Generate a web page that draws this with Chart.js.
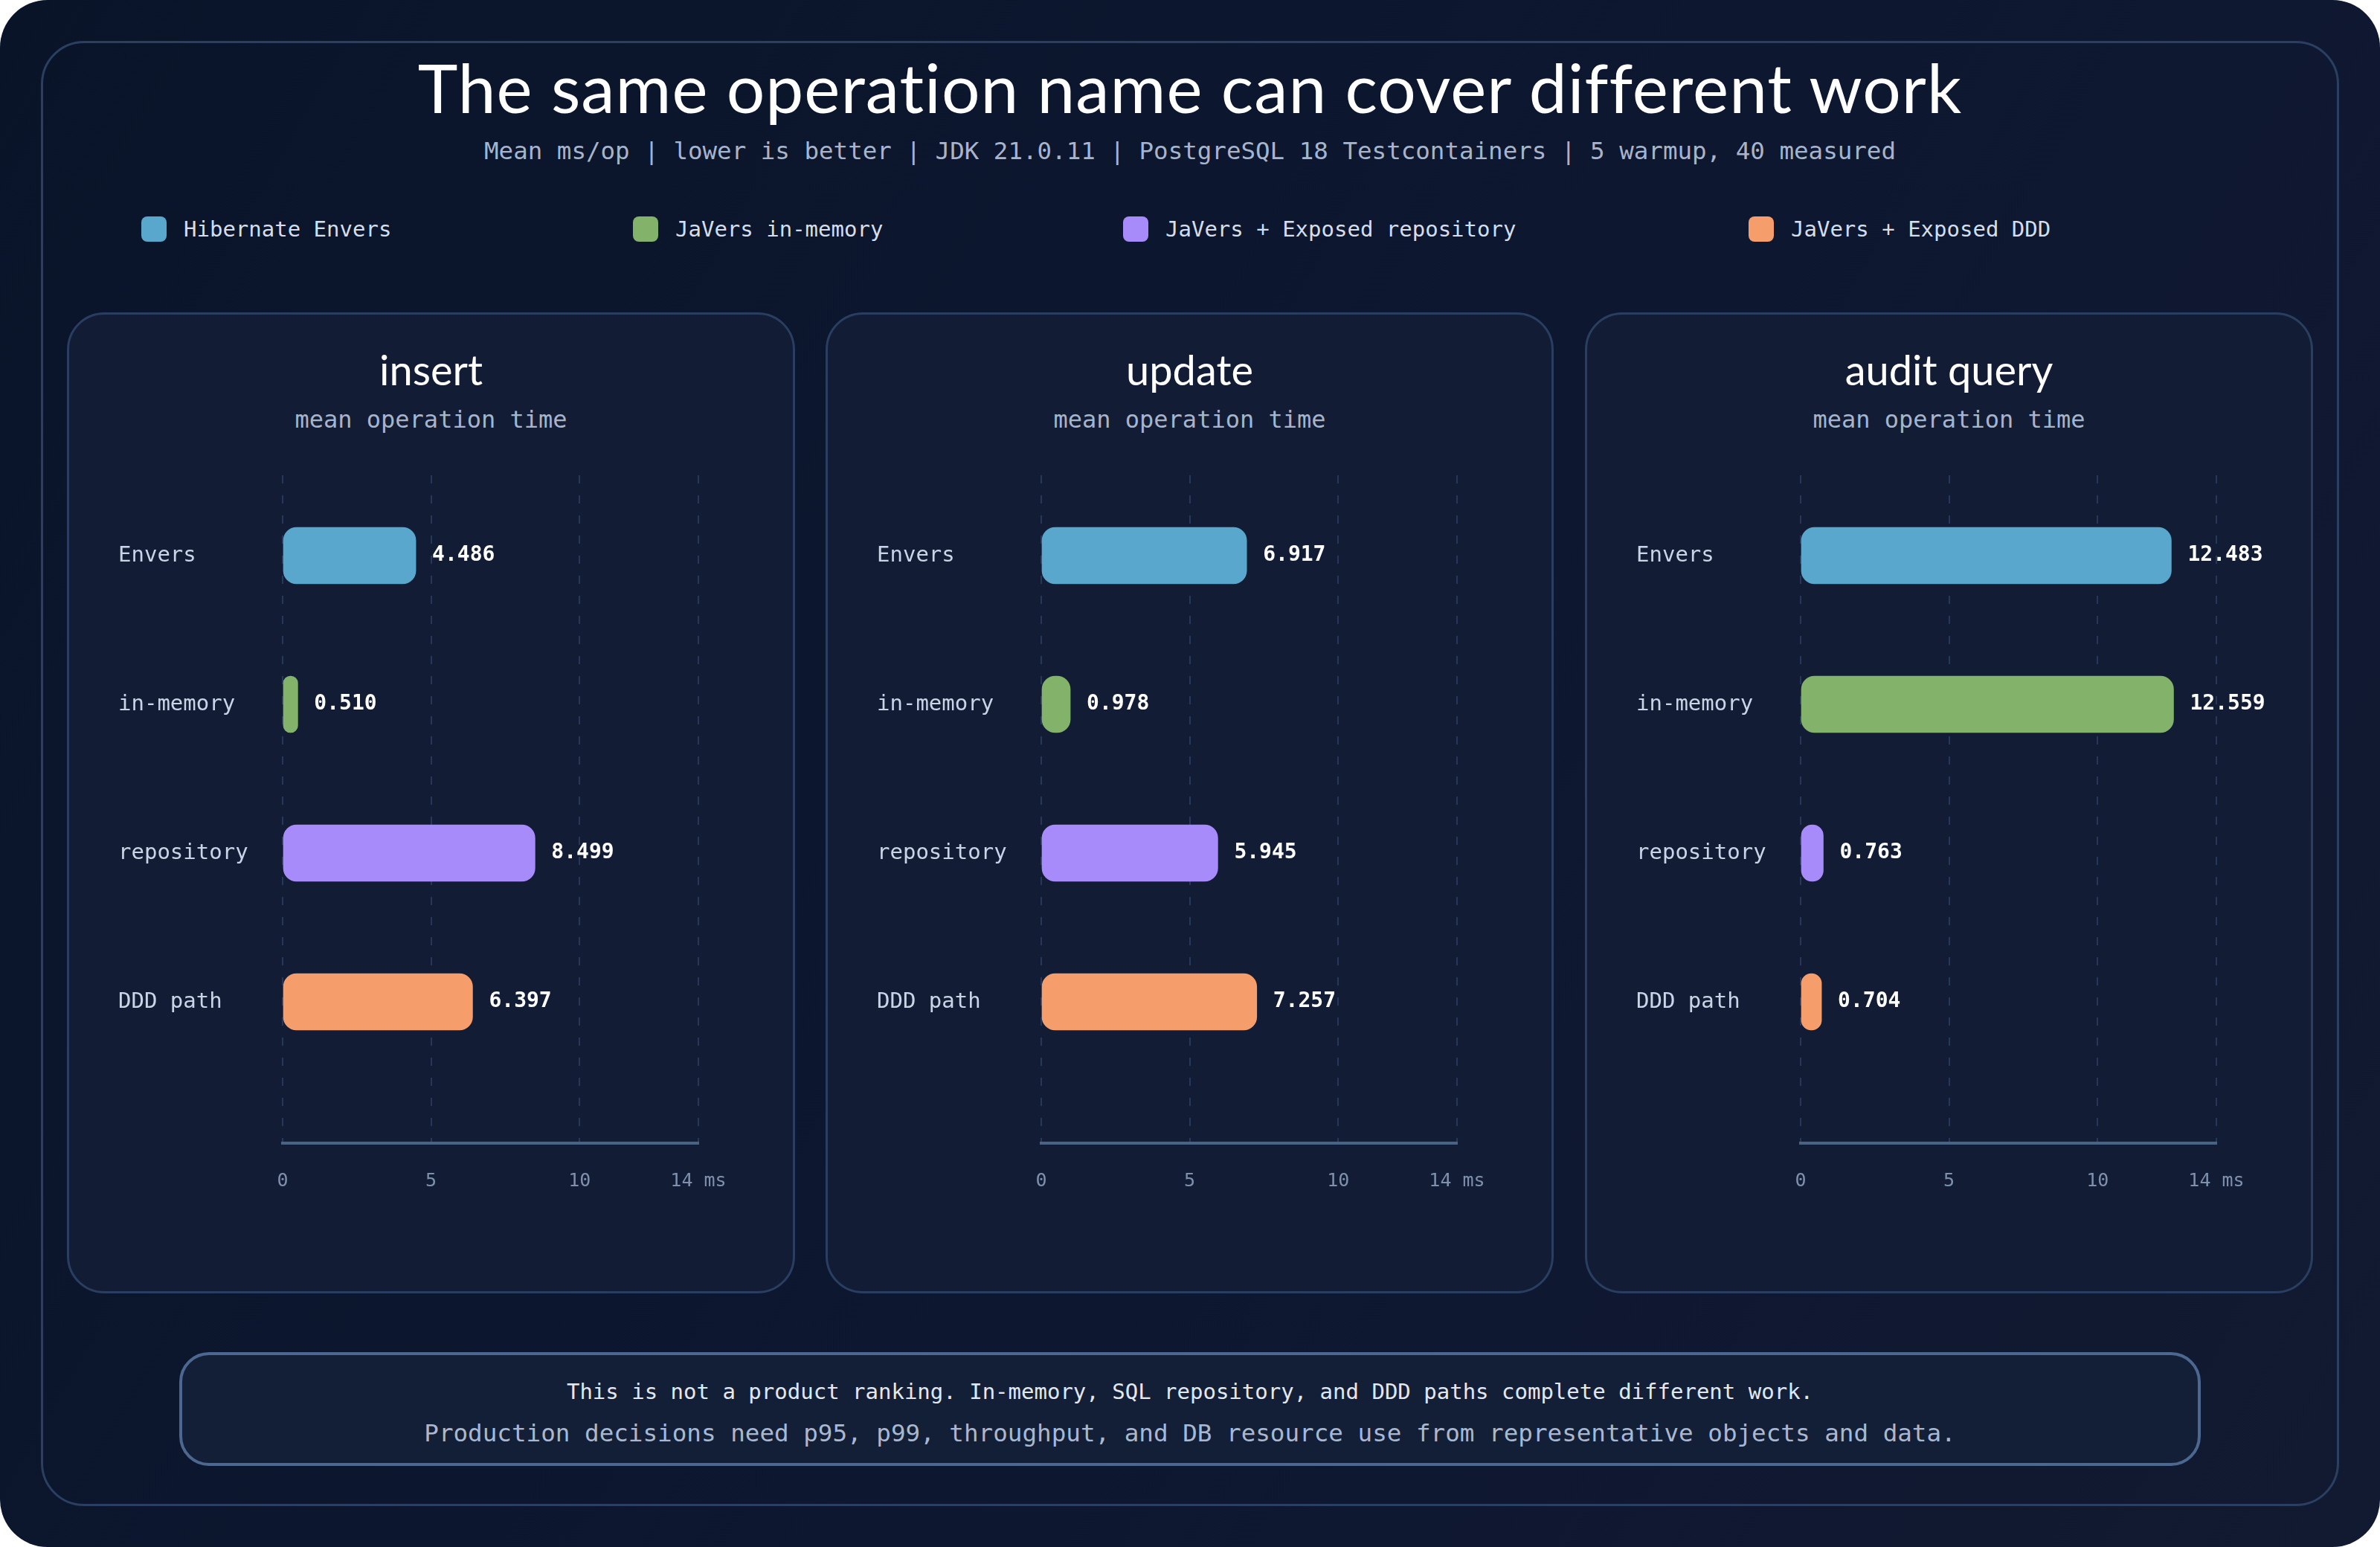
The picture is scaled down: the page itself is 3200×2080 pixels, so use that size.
<!DOCTYPE html>
<html>
<head>
<meta charset="utf-8">
<script src="https://cdn.jsdelivr.net/npm/chart.js@4.4.1/dist/chart.umd.min.js"></script>
<style>
  html, body { margin: 0; padding: 0; background: #ffffff; }
  #page {
    position: relative; width: 3200px; height: 2080px; overflow: hidden;
    border-radius: 64px;
    background: linear-gradient(120deg, #0a1429 0%, #0d1730 55%, #121a31 100%);
    font-family: "DejaVu Sans Mono", monospace;
  }
  #frame {
    position: absolute; left: 55px; top: 55px; width: 3084px; height: 1964px;
    border: 3px solid #2b3f63; border-radius: 58px;
  }
  #title {
    position: absolute; left: 0; width: 3200px; top: 62px; text-align: center;
    font-family: Lato, sans-serif; font-size: 91px; color: #ffffff; letter-spacing: 1px;
  }
  #subtitle {
    position: absolute; left: 0; width: 3200px; top: 184px; text-align: center;
    font-size: 32.5px; color: #a6b4cc;
  }
  .legend-item { position: absolute; top: 291px; height: 34px; display: flex; align-items: center; }
  .legend-box { width: 34px; height: 34px; border-radius: 8px; margin-right: 23px; }
  .legend-text { font-size: 29px; color: #d5deeb; }
  .panel {
    position: absolute; top: 420px; width: 973px; height: 1313px;
    background: #121d35; border: 3px solid #2a3e62; border-radius: 50px;
  }
  .panel-title {
    position: absolute; left: 0; width: 100%; top: 40px; text-align: center;
    font-family: Lato, sans-serif; font-size: 56px; color: #ffffff;
  }
  .panel-sub {
    position: absolute; left: 0; width: 100%; top: 122px; text-align: center;
    font-size: 32px; color: #a6b4cc;
  }
  .panel canvas { position: absolute; left: -3px; top: 177px; }
  #note {
    position: absolute; left: 241px; top: 1818px; width: 2710px; height: 145px;
    border: 4px solid #4d6890; border-radius: 40px; background: #131f37;
  }
  #note1 { position: absolute; left: 0; width: 100%; top: 32px; text-align: center; font-size: 29px; color: #e2e8f0; }
  #note2 { position: absolute; left: 0; width: 100%; top: 86px; text-align: center; font-size: 32.6px; color: #a9b8d0; }
</style>
</head>
<body>
<div id="page">
  <div id="frame"></div>
  <div id="title">The same operation name can cover different work</div>
  <div id="subtitle">Mean ms/op | lower is better | JDK 21.0.11 | PostgreSQL 18 Testcontainers | 5 warmup, 40 measured</div>
  <div id="legend"></div>
  <div id="panels"></div>
  <div id="note">
    <div id="note1">This is not a product ranking. In-memory, SQL repository, and DDD paths complete different work.</div>
    <div id="note2">Production decisions need p95, p99, throughput, and DB resource use from representative objects and data.</div>
  </div>
</div>
<script>
// Data
const categories = ['Envers', 'in-memory', 'repository', 'DDD path'];
const seriesNames = ['Hibernate Envers', 'JaVers in-memory', 'JaVers + Exposed repository', 'JaVers + Exposed DDD'];
const seriesColors = ['#59a7cc', '#83b26a', '#a78bfa', '#f59e6b'];
const operations = ['insert', 'update', 'audit query'];
const insertMs = [4.486, 0.510, 8.499, 6.397];
const updateMs = [6.917, 0.978, 5.945, 7.257];
const auditQueryMs = [12.483, 12.559, 0.763, 0.704];
const xTicks = [0, 5, 10, 14];

const panelValues = [insertMs, updateMs, auditQueryMs];
const panelLeft = [90, 1110, 2131];
const legendLeft = [190, 851, 1510, 2351];

Chart.defaults.font.family = '"DejaVu Sans Mono", monospace';
Chart.defaults.devicePixelRatio = 1;

// legend
const legend = document.getElementById('legend');
seriesNames.forEach((name, i) => {
    const item = document.createElement('div');
    item.className = 'legend-item';
    item.style.left = legendLeft[i] + 'px';
    item.innerHTML = `<div class="legend-box" style="background:${seriesColors[i]}"></div><span class="legend-text">${name}</span>`;
    legend.appendChild(item);
});

// value labels next to the bars
const valueLabels = {
    id: 'valueLabels',
    afterDatasetsDraw(chart) {
        const ctx = chart.ctx;
        const meta = chart.getDatasetMeta(0);
        ctx.save();
        ctx.font = 'bold 28px "DejaVu Sans Mono"';
        ctx.fillStyle = '#ffffff';
        ctx.textBaseline = 'middle';
        meta.data.forEach((bar, i) => {
            const v = chart.data.datasets[0].data[i].x;
            ctx.fillText(v.toFixed(3), bar.x + 22, bar.y);
        });
        ctx.restore();
    }
};

function makeChart(idx) {
    const panel = document.createElement('div');
    panel.className = 'panel';
    panel.style.left = panelLeft[idx] + 'px';
    panel.innerHTML = `<div class="panel-title">${operations[idx]}</div><div class="panel-sub">mean operation time</div>`;
    const canvas = document.createElement('canvas');
    canvas.width = 979;
    canvas.height = 1027;
    panel.appendChild(canvas);
    document.getElementById('panels').appendChild(panel);

    const values = panelValues[idx];
    new Chart(canvas.getContext('2d'), {
        type: 'bar',
        data: {
            datasets: [{
                data: values.map((v, i) => ({ x: v, y: i })),
                backgroundColor: seriesColors,
                borderRadius: 18,
                borderSkipped: false,
                barThickness: 76
            }]
        },
        options: {
            indexAxis: 'y',
            responsive: false,
            animation: false,
            layout: { padding: { left: 69, right: 130, top: 39, bottom: 0 } },
            plugins: { legend: { display: false }, tooltip: { enabled: false } },
            scales: {
                x: {
                    type: 'linear', min: 0, max: 14,
                    afterBuildTicks: s => { s.ticks = xTicks.map(v => ({ value: v })); },
                    afterFit: s => { s.height = 90; },
                    grid: { color: '#26385a', lineWidth: 2, drawTicks: false },
                    border: { display: true, color: '#4a6283', width: 4, dash: [11, 16] },
                    ticks: {
                        padding: 36, color: '#7f90ad', font: { size: 25 },
                        callback: (v, i, t) => i === t.length - 1 ? v + ' ms' : v
                    }
                },
                y: {
                    type: 'linear', reverse: true, offset: false, min: -0.54, max: 3.95,
                    afterBuildTicks: s => { s.ticks = categories.map((c, i) => ({ value: i })); },
                    afterFit: s => { s.width = 221; },
                    grid: { display: false },
                    border: { display: false },
                    ticks: {
                        crossAlign: 'far', color: '#c9d4e6', font: { size: 29 },
                        callback: v => categories[v]
                    }
                }
            }
        },
        plugins: [valueLabels]
    });
}

window.onload = () => {
    operations.forEach((op, i) => makeChart(i));
};
</script>
</body>
</html>
